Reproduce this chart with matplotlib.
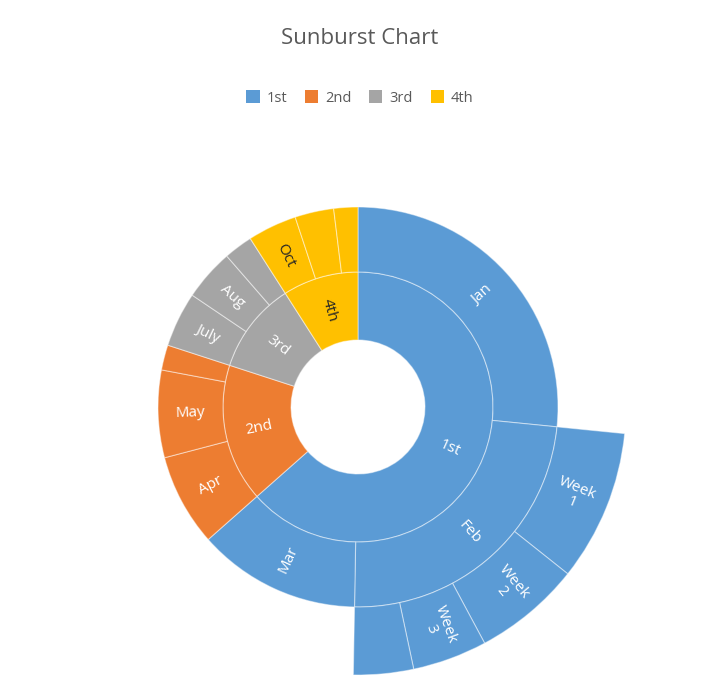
import numpy as np
import matplotlib.pyplot as plt
from matplotlib.patches import Wedge, Patch

plt.rcParams['font.family'] = ['Open Sans', 'DejaVu Sans']

# values (share of full circle, in degrees)
quarters = ['1st', '2nd', '3rd', '4th']
quarter_vals = [228.5, 59.5, 39.4, 32.6]
months = ['Jan', 'Feb', 'Mar', 'Apr', 'May', '', 'July', 'Aug', '', 'Oct', '', '']
month_vals = [95.7, 85.3, 47.5, 26.8, 25.4, 7.3, 16.0, 15.0, 8.4, 14.3, 11.3, 7.0]
month_quarter = [0, 0, 0, 1, 1, 1, 2, 2, 2, 3, 3, 3]
weeks = ['Week\n1', 'Week\n2', 'Week\n3', '']
week_vals = [32.8, 23.3, 16.2, 13.0]
week_start_month = 1  # weeks belong to Feb

colors = ['#5B9BD5', '#ED7D31', '#A5A5A5', '#FFC000']
text_col = ['white', 'white', 'white', '#262626']

W, H = 720, 688
fig = plt.figure(figsize=(W / 100, H / 100), dpi=100)
ax = fig.add_axes([0, 0, 1, 1])
ax.set_xlim(0, W)
ax.set_ylim(0, H)
ax.set_aspect('equal')
ax.axis('off')

cx, cy = 358, H - 407
r0, r1, r2, r3 = 67, 135, 200, 268


def label(text, th, rad, col, fs=11):
    a = np.deg2rad(th)
    rot = ((th + 90) % 360) - 90
    if rot > 90:
        rot -= 180
    ax.text(cx + rad * np.cos(a), cy + rad * np.sin(a), text, rotation=rot,
            ha='center', va='center', color=col, fontsize=fs,
            rotation_mode='anchor', linespacing=1.0)


def ring(vals, names, cols, tcols, rin, rout, start):
    th = start
    out = []
    for v, n, c, tc in zip(vals, names, cols, tcols):
        t1, t2 = th - v, th
        ax.add_patch(Wedge((cx, cy), rout, t1, t2, width=rout - rin, facecolor=c,
                           edgecolor=(1, 1, 1, 0.45), linewidth=0.8))
        if n:
            label(n, (t1 + t2) / 2, (rin + rout) / 2, tc)
        out.append((t1, t2))
        th = t1
    return out

ring(quarter_vals, quarters, colors, text_col, r0, r1, 90)
mspans = ring(month_vals, months, [colors[q] for q in month_quarter],
              [text_col[q] for q in month_quarter], r1, r2, 90)
ring(week_vals, weeks, [colors[0]] * 4, ['white'] * 4, r2, r3,
     mspans[week_start_month][1])

ax.text(W / 2, H - 38, 'Sunburst Chart', ha='center', va='center',
        fontsize=16, color='#595959')
handles = [Patch(facecolor=c, label=q) for c, q in zip(colors, quarters)]
fig.legend(handles=handles, loc='center', bbox_to_anchor=(0.5, 1 - 98 / H),
           ncol=4, frameon=False, fontsize=10.5, handlelength=0.9,
           handleheight=0.9, columnspacing=1.2, handletextpad=0.5,
           labelcolor='#595959')

fig.savefig('out.png', dpi=100)
